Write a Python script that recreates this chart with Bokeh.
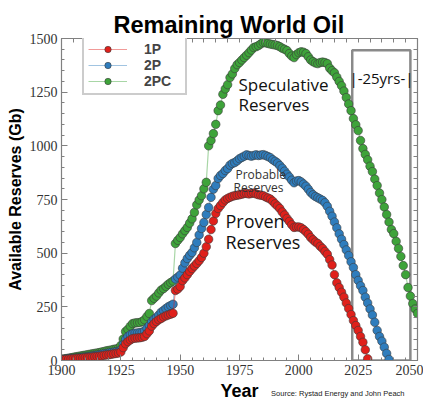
from bokeh.plotting import figure
from bokeh.models import (ColumnDataSource, Label, Legend, LegendItem, LinearAxis,
                          Range1d, FixedTicker, Title)
from bokeh.embed import file_html
from bokeh.resources import INLINE

# ---------------- data ----------------
start_year = 1900
reserves_1p = [
    3, 4, 5, 6, 7, 8, 9, 10, 11, 12,
    13, 14, 15, 16, 18, 19, 20, 22, 24, 26,
    27, 29, 31, 33, 35, 40, 60, 78, 88, 96,
    102, 104, 105, 106, 108, 112, 125, 138, 160, 172,
    182, 190, 196, 203, 208, 212, 216, 220, 326, 333,
    345, 372, 385, 400, 415, 428, 440, 452, 465, 480,
    500, 530, 565, 610, 650, 685, 708, 722, 736, 748,
    755, 760, 765, 768, 770, 772, 775, 778, 778, 776,
    778, 780, 776, 772, 770, 768, 762, 757, 752, 742,
    730, 720, 708, 692, 678, 662, 648, 632, 620, 622,
    622, 618, 610, 600, 588, 573, 562, 552, 545, 532,
    522, 508, 495, 470, 445, 400, 362, 340, 318, 295,
    268, 242, 214, 186, 163, 140, 112, 85, 50, 8,
]
reserves_2p = [
    5, 6, 7, 8, 9, 10, 11, 12, 13, 15,
    16, 18, 19, 21, 23, 25, 27, 29, 31, 33,
    35, 37, 39, 41, 43, 50, 75, 98, 112, 120,
    125, 127, 128, 130, 132, 138, 150, 163, 180, 192,
    200, 212, 225, 233, 242, 250, 256, 262, 380, 388,
    398, 430, 455, 475, 490, 503, 525, 550, 585, 615,
    643, 680, 713, 760, 798, 815, 848, 862, 871, 885,
    894, 910, 918, 922, 930, 940, 946, 952, 958, 955,
    952, 955, 958, 955, 957, 959, 955, 950, 945, 935,
    928, 920, 908, 896, 882, 868, 855, 840, 828, 836,
    838, 832, 822, 812, 798, 783, 772, 764, 758, 752,
    746, 735, 718, 695, 672, 645, 618, 590, 565, 540,
    515, 489, 460, 433, 400, 373, 348, 326, 295, 268,
    240, 212, 178, 140, 112, 90, 62, 33, 5,
]
reserves_2pc = [
    5, 7, 9, 11, 13, 15, 17, 19, 21, 23,
    25, 27, 29, 31, 33, 35, 37, 40, 42, 45,
    47, 49, 52, 54, 57, 70, 100, 135, 145, 160,
    172, 175, 176, 177, 182, 190, 205, 219, 279, 290,
    300, 315, 328, 335, 345, 355, 363, 370, 545, 560,
    573, 590, 605, 620, 640, 660, 690, 725, 748, 768,
    800, 830, 1000, 1025, 1057, 1100, 1164, 1190, 1240, 1265,
    1285, 1318, 1335, 1360, 1378, 1388, 1400, 1411, 1422, 1434,
    1446, 1458, 1462, 1467, 1475, 1481, 1480, 1477, 1474, 1472,
    1470, 1467, 1462, 1455, 1450, 1444, 1430, 1418, 1411, 1425,
    1434, 1438, 1436, 1430, 1415, 1400, 1392, 1386, 1383, 1388,
    1390, 1388, 1383, 1362, 1350, 1340, 1320, 1300, 1280, 1255,
    1225, 1195, 1164, 1127, 1098, 1071, 1025, 987, 960, 935,
    905, 880, 845, 815, 780, 750, 715, 680, 645, 610,
    591, 555, 522, 485, 442, 400, 340, 300, 265, 240,
    219,
]
series_names = ["1P", "2P", "2PC"]
x_major_ticks = [1900, 1925, 1950, 1975, 2000, 2025, 2050]
x_minor_ticks = list(range(1900, 2051, 5))
y_major_ticks = [0, 250, 500, 750, 1000, 1250, 1500]
y_minor_ticks = list(range(0, 1501, 50))
window_years = [2022.5, 2047.0]
window_top = 1445

# ---------------- figure ----------------
p = figure(width=423, height=403, output_backend="svg", toolbar_location=None,
           x_range=Range1d(1900, 2050), y_range=Range1d(0, 1500),
           min_border_left=61, min_border_right=6, min_border_top=38,
           min_border_bottom=43, background_fill_color="white",
           border_fill_color="white")
p.xgrid.visible = False
p.ygrid.visible = False
p.outline_line_color = "#808080"
p.outline_line_width = 1.2

p.title = Title(text="Remaining World Oil", text_font="Liberation Sans",
                text_font_size="23.5px", text_font_style="bold",
                text_color="black", align="left", offset=52, standoff=2)

AX_FONT = "Liberation Serif"
xa = p.xaxis[0]
ya = p.yaxis[0]
xa.ticker = FixedTicker(ticks=x_major_ticks, minor_ticks=x_minor_ticks)
ya.ticker = FixedTicker(ticks=y_major_ticks, minor_ticks=y_minor_ticks)
for ax in (xa, ya):
    ax.axis_line_color = "#808080"
    ax.major_tick_line_color = "#808080"
    ax.minor_tick_line_color = "#808080"
    ax.major_tick_in = 6
    ax.major_tick_out = 0
    ax.minor_tick_in = 3
    ax.minor_tick_out = 0
    ax.major_label_text_font = AX_FONT
    ax.major_label_text_font_size = "14px"
    ax.major_label_text_color = "#333333"
    ax.axis_label_text_font = "Liberation Sans"
    ax.axis_label_text_font_style = "bold"
    ax.axis_label_text_color = "black"
xa.axis_label = "Year"
xa.axis_label_text_font_size = "18px"
xa.major_label_standoff = 4
xa.axis_label_standoff = 3
ya.axis_label = "Available Reserves (Gb)"
ya.axis_label_text_font_size = "16px"
ya.axis_label_standoff = 3
ya.major_label_standoff = 4

# mirrored ticks on top and right (no labels)
for loc, minor in (("above", x_minor_ticks), ("right", y_minor_ticks)):
    ax = LinearAxis(ticker=FixedTicker(ticks=[], minor_ticks=minor))
    ax.axis_line_color = "#808080"
    ax.minor_tick_line_color = "#808080"
    ax.major_tick_in = 0
    ax.major_tick_out = 0
    ax.minor_tick_in = 4
    ax.minor_tick_out = 0
    ax.major_label_standoff = 0
    p.add_layout(ax, loc)

# source note, tucked in the bottom border beside "Year"
p.add_layout(Title(text="Source: Rystad Energy and John Peach",
                   text_font="Liberation Sans", text_font_size="7.5px",
                   text_font_style="normal", text_color="#222222",
                   align="right", offset=13, standoff=-29,
                   vertical_align="top"), "below")

# 25-year window box
p.quad(left=[window_years[0]], right=[window_years[1]], bottom=[0], top=[window_top],
       fill_alpha=0, line_color="#8a8a8a", line_width=2.5)

colors = {"1P": "#e0201b", "2P": "#2f7dbd", "2PC": "#3ea33a"}
values = {"1P": reserves_1p, "2P": reserves_2p, "2PC": reserves_2pc}
renderers = {}
for name in ["2PC", "2P", "1P"]:
    vals = values[name]
    src = ColumnDataSource(dict(year=[start_year + i for i in range(len(vals))], v=vals))
    ln = p.line("year", "v", source=src, line_color=colors[name], line_alpha=0.45,
                line_width=1.2)
    sc = p.scatter("year", "v", source=src, size=8.5, fill_color=colors[name],
                   line_color="#3a3a3a", line_width=0.6)
    renderers[name] = [ln, sc]

legend = Legend(items=[LegendItem(label=n, renderers=renderers[n]) for n in series_names],
                location=(21, 265), padding=4, spacing=0, glyph_width=39,
                glyph_height=16, label_height=16, label_standoff=17, label_width=37,
                border_line_color="#999999", border_line_width=2,
                background_fill_color="white", background_fill_alpha=1,
                label_text_font="Liberation Sans", label_text_font_style="bold",
                label_text_font_size="14px", margin=0)
p.add_layout(legend)

def lab(x, y, text, size, color="black", font="Open Sans", align="left"):
    p.add_layout(Label(x=x, y=y, text=text, text_font=font, text_font_size=size,
                       text_color=color, text_align=align, text_baseline="alphabetic"))

lab(1974.6, 1285, "Speculative", "17px", "#111111")
lab(1974.6, 1192, "Reserves", "17px", "#111111")
lab(1973.3, 866, "Probable", "12px", "#333333")
lab(1972.5, 806, "Reserves", "12px", "#333333")
lab(1969.1, 648, "Proven", "18px", "#111111")
lab(1969.1, 554, "Reserves", "18px", "#111111")
lab(2034.8, 1318, "|-25yrs-|", "15px", "#111111", align="center")

open("out.html", "w").write(file_html(p, INLINE))
